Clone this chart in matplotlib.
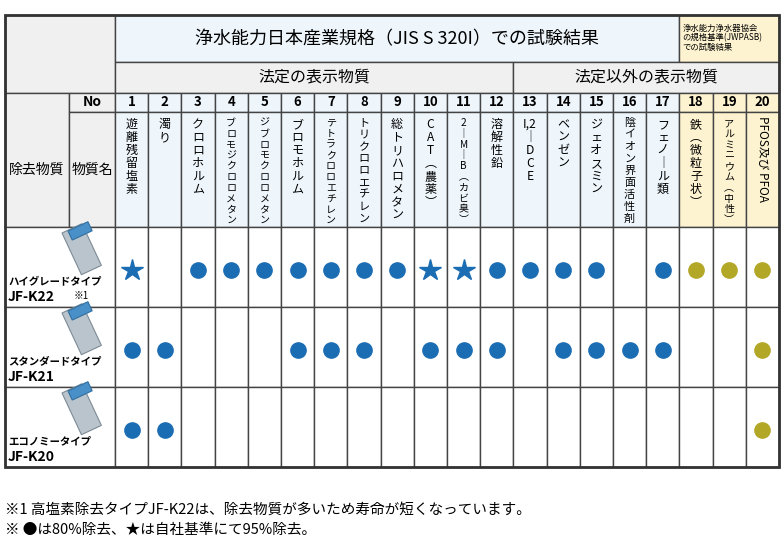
import matplotlib
matplotlib.use('Agg')
import matplotlib.pyplot as plt
from matplotlib.patches import Rectangle

plt.rcParams['font.family'] = ['Noto Sans CJK JP', 'DejaVu Sans']

# Data
substances = ['遊離残留塩素', '濁り', 'クロロホルム', 'ブロモジクロロメタン', 'ジブロモクロロメタン',
              'ブロモホルム', 'テトラクロロエチレン', 'トリクロロエチレン', '総トリハロメタン',
              'CAT（農薬）', '2-M-B（カビ臭）', '溶解性鉛', 'I,2-DCE', 'ベンゼン', 'ジェオスミン',
              '陰イオン界面活性剤', 'フェノール類', '鉄（微粒子状）', 'アルミニウム（中性）', 'PFOS及び PFOA']
products = ['JF-K22', 'JF-K21', 'JF-K20']
product_types = ['ハイグレードタイプ', 'スタンダードタイプ', 'エコノミータイプ']
# s = star (95%), d = dot (80%), o = JWPAS dot, '' = none
marks_k22 = ['s', '', 'd', 'd', 'd', 'd', 'd', 'd', 'd', 's', 's', 'd', 'd', 'd', 'd', '', 'd', 'o', 'o', 'o']
marks_k21 = ['d', 'd', '', '', '', 'd', 'd', 'd', '', 'd', 'd', 'd', '', 'd', 'd', 'd', 'd', '', '', 'o']
marks_k20 = ['d', 'd', '', '', '', '', '', '', '', '', '', '', '', '', '', '', '', '', '', 'o']
marks = [marks_k22, marks_k21, marks_k20]

BLUE = '#1b6db3'
OLIVE = '#b3a728'
LBLUE = '#eef6fc'
LGRAY = '#f0f0f0'
YEL = '#fdf3d0'
LINE = '#444444'

fig = plt.figure(figsize=(7.84, 5.45), dpi=100)
ax = fig.add_axes([0, 0, 1, 1])
ax.set_xlim(0, 784)
ax.set_ylim(545, 0)
ax.axis('off')

x0, xa, xb, x1 = 5, 69, 115, 779
cw = (x1 - xb) / 20
cols = [xb + i * cw for i in range(21)]
y_title, y_sub, y_no, y_name, y_body = 15, 62, 93, 112, 227
rh = 80


def cell(x, y, w, h, fc, lw=1.0):
    ax.add_patch(Rectangle((x, y), w, h, facecolor=fc, edgecolor=LINE, lw=lw))


# header left blocks
cell(x0, y_title, xb - x0, y_no - y_title, LGRAY)
cell(x0, y_no, xa - x0, y_body - y_no, LGRAY)
cell(xa, y_no, xb - xa, y_name - y_no, LGRAY)
cell(xa, y_name, xb - xa, y_body - y_name, LGRAY)
ax.text(37, 170, '除去物質', ha='center', va='center', fontsize=10)
ax.text(92, 170, '物質名', ha='center', va='center', fontsize=10)
ax.text(92, 102.5, 'No', ha='center', va='center', fontsize=10, fontweight='bold')

# title rows
cell(xb, y_title, cols[17] - xb, y_sub - y_title, LBLUE)
cell(cols[17], y_title, x1 - cols[17], y_sub - y_title, YEL)
ax.text((xb + cols[17]) / 2, 39, '浄水能力日本産業規格（JIS S 320I）での試験結果',
        ha='center', va='center', fontsize=13)
ax.text(cols[17] + 3, 38, '浄水能力浄水器協会\nの規格基準(JWPASB)\nでの試験結果',
        ha='left', va='center', fontsize=6, linespacing=1.1)
cell(xb, y_sub, cols[12] - xb, y_no - y_sub, LGRAY)
cell(cols[12], y_sub, x1 - cols[12], y_no - y_sub, LGRAY)
ax.text((xb + cols[12]) / 2, 77, '法定の表示物質', ha='center', va='center', fontsize=11.5)
ax.text((cols[12] + x1) / 2, 77, '法定以外の表示物質', ha='center', va='center', fontsize=11.5)

vmap = {'ー': '｜', '（': '︵', '）': '︶', '-': '｜'}
for i, name in enumerate(substances):
    fc = YEL if i >= 17 else LBLUE
    cell(cols[i], y_no, cw, y_name - y_no, fc)
    cell(cols[i], y_name, cw, y_body - y_name, fc)
    cx = cols[i] + cw / 2
    ax.text(cx, 102.5, str(i + 1), ha='center', va='center', fontsize=9.5, fontweight='bold')
    if i == 19:
        ax.text(cx, 116, name, ha='center', va='top', rotation=-90, fontsize=8.5)
        continue
    if name == 'I,2-DCE':
        chars = ['I,2', '｜', 'D', 'C', 'E']
    else:
        chars = list(name)
    step = min(13, 108 / len(chars))
    fs = min(9.5, step / 1.5)
    for k, ch in enumerate(chars):
        ax.text(cx, 118 + step * k, vmap.get(ch, ch), ha='center', va='top', fontsize=fs)

# body rows
for r, prod in enumerate(products):
    y = y_body + r * rh
    cell(x0, y, xb - x0, rh, 'white')
    # simple cartridge sketch
    ax.add_patch(Rectangle((62, y + 6), 22, 46, angle=-25, facecolor='#b9c4cc',
                           edgecolor='#7d8b96', lw=0.8))
    ax.add_patch(Rectangle((68, y + 4), 22, 10, angle=-25, facecolor='#4a90c8',
                           edgecolor='#2f6f9f', lw=0.8))
    ax.text(8, y + 54, product_types[r], ha='left', va='center', fontsize=7.5, fontweight='bold')
    ax.text(8, y + 70, prod, ha='left', va='center', fontsize=10, fontweight='bold')
    if r == 0:
        ax.text(74, y + 69, '※1', ha='left', va='center', fontsize=7)
    for i, m in enumerate(marks[r]):
        cell(cols[i], y, cw, rh, 'white')
        cx = cols[i] + cw / 2
        cy = y + 43
        if m == 's':
            ax.plot(cx, cy, marker='*', ms=16, color=BLUE, mec=BLUE)
        elif m == 'd':
            ax.plot(cx, cy, marker='o', ms=11, color=BLUE)
        elif m == 'o':
            ax.plot(cx, cy, marker='o', ms=11, color=OLIVE)

ax.add_patch(Rectangle((x0, y_title), x1 - x0, y_body + 3 * rh - y_title,
                       facecolor='none', edgecolor='#333333', lw=2))

ax.text(5, 510, '※1 高塩素除去タイプJF-K22は、除去物質が多いため寿命が短くなっています。',
        ha='left', va='center', fontsize=10.5)
ax.text(5, 530, '※ ●は80%除去、★は自社基準にて95%除去。', ha='left', va='center', fontsize=10.5)

fig.savefig('out.png', dpi=100)
